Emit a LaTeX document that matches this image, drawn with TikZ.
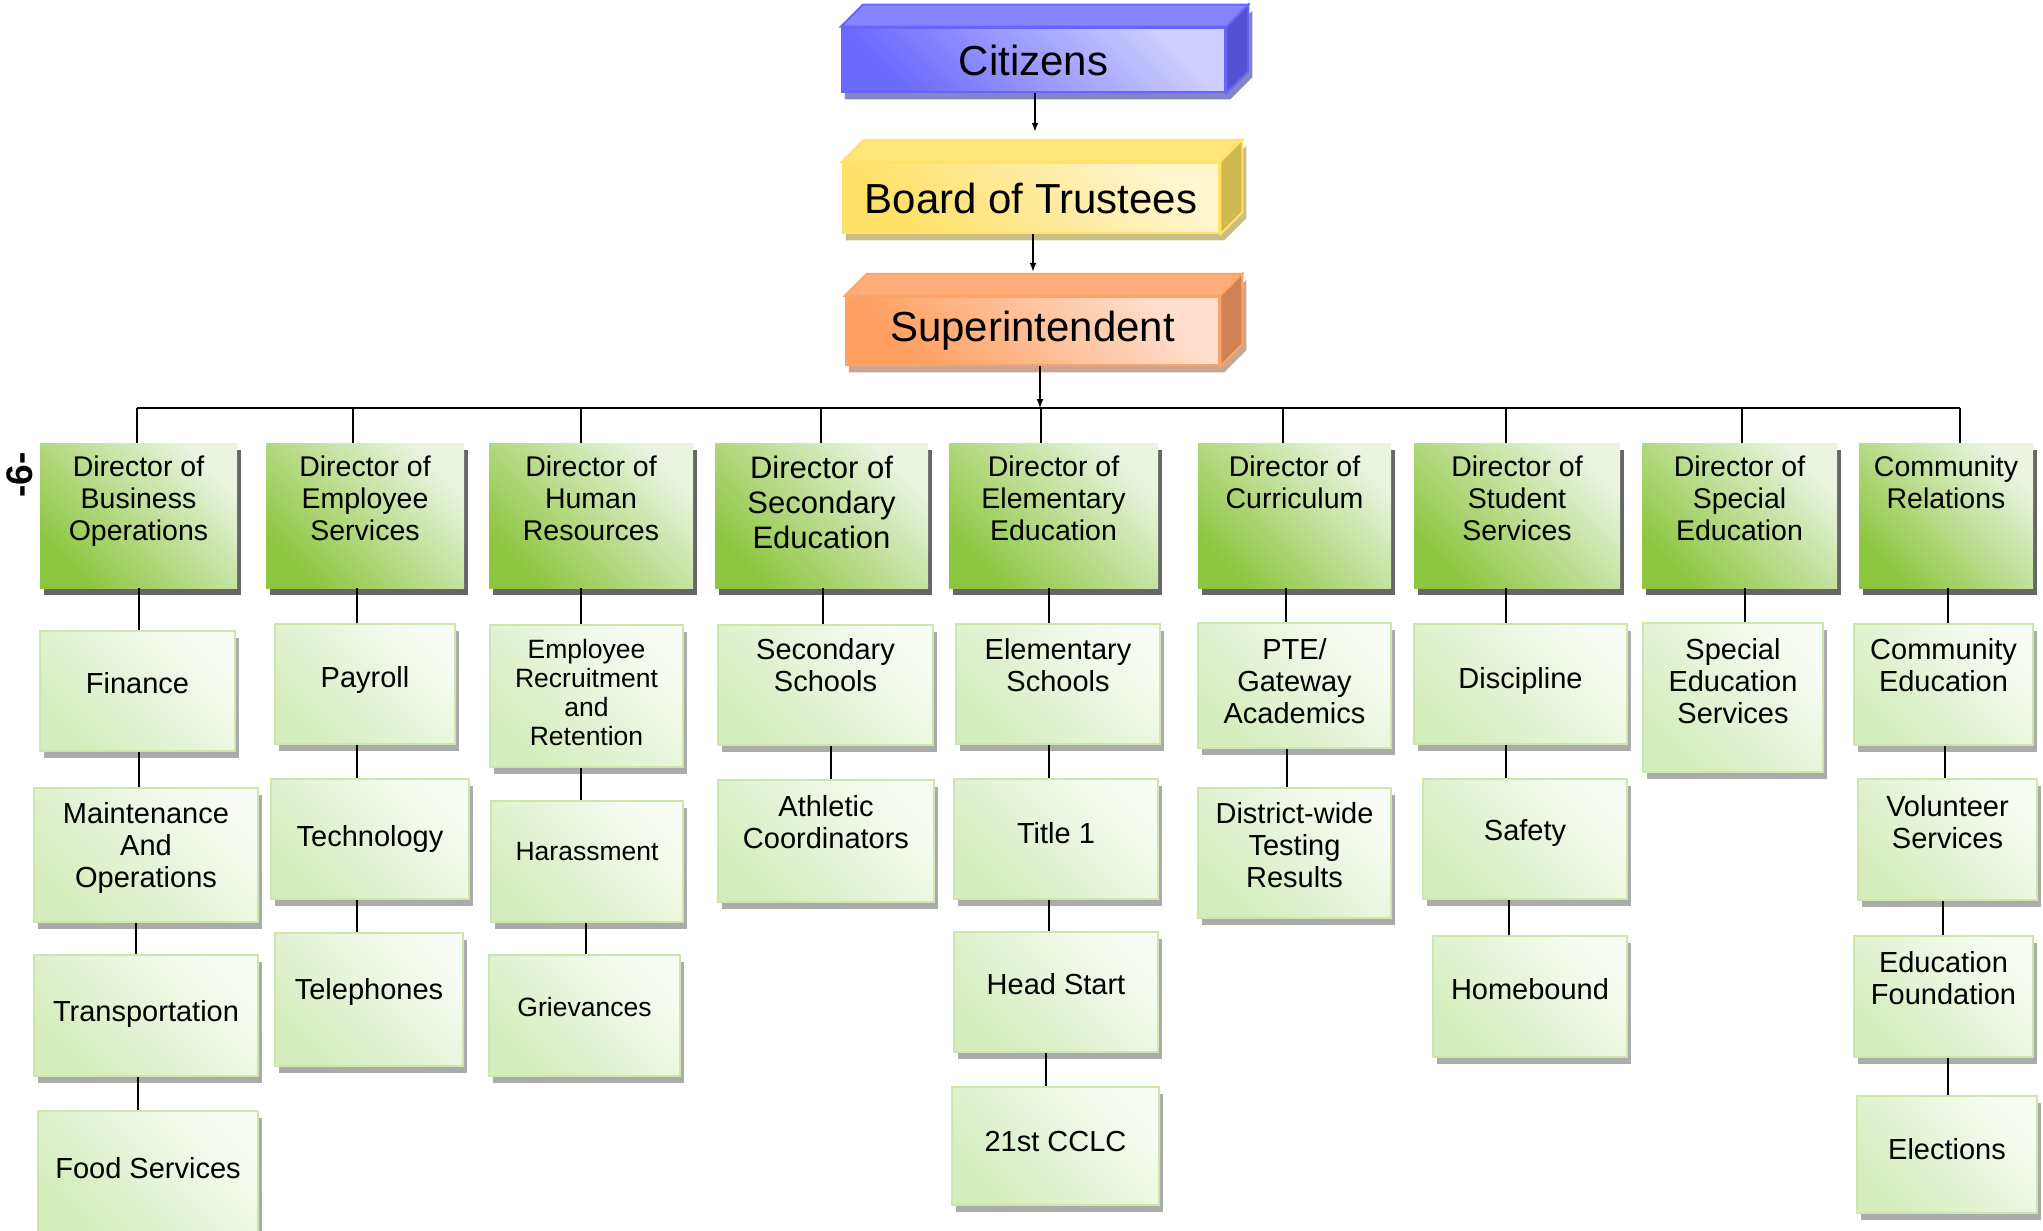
\documentclass[tikz,border=0pt]{standalone}
\usepackage{fontspec}
\setmainfont{Liberation Sans}
\usetikzlibrary{arrows.meta,shadows,backgrounds}

\definecolor{frontcity}{HTML}{6A6AFF}
\definecolor{lightcity}{HTML}{CFCFFF}
\definecolor{topcity}{HTML}{8585FF}
\definecolor{sidecity}{HTML}{5252D2}
\definecolor{linecity}{HTML}{6666FF}
\definecolor{shadowcity}{HTML}{8585C2}
\definecolor{frontboard}{HTML}{FFE066}
\definecolor{lightboard}{HTML}{FFF5CF}
\definecolor{topboard}{HTML}{FFE57A}
\definecolor{sideboard}{HTML}{CFB752}
\definecolor{lineboard}{HTML}{FFE266}
\definecolor{shadowboard}{HTML}{C9BD85}
\definecolor{frontsup}{HTML}{FF9E5E}
\definecolor{lightsup}{HTML}{FFE0CF}
\definecolor{topsup}{HTML}{FFAE7A}
\definecolor{sidesup}{HTML}{CF8254}
\definecolor{linesup}{HTML}{FFA266}
\definecolor{shadowsup}{HTML}{C9A592}
\definecolor{dirdark}{HTML}{8CC63F}
\definecolor{dirlight}{HTML}{EAF4E0}
\definecolor{subdark}{HTML}{D5ECBC}
\definecolor{sublight}{HTML}{F8FCF4}
\definecolor{subline}{HTML}{CCE6AE}
\definecolor{darkshadow}{HTML}{666666}
\definecolor{lightshadow}{HTML}{ABABAB}

\begin{document}
\begin{tikzpicture}[x=1pt,y=-1pt,
  conn/.style={line width=2pt},
  arr/.style={line width=1.6pt,-{Latex[length=9pt,width=7pt]}},
  topbox/.style={rectangle,inner sep=0,line width=2.5pt,font=\fontsize{42}{48}\selectfont},
  dirbox/.style={rectangle,inner sep=0,minimum height=145,
    top color=dirlight,bottom color=dirdark,shading angle=-45,
    drop shadow={shadow xshift=3.5pt,shadow yshift=-6.5pt,fill=darkshadow,opacity=1}},
  dirtext/.style={anchor=north,yshift=-13pt,inner sep=0,align=center,
    font=\fontsize{28.5}{32}\selectfont},
  dirbig/.style={dirtext,font=\fontsize{31}{35}\selectfont},
  subbox/.style={rectangle,inner sep=0,draw=subline,line width=2.5pt,
    top color=sublight,bottom color=subdark,shading angle=-45,
    drop shadow={shadow xshift=3.5pt,shadow yshift=-6.5pt,fill=lightshadow,opacity=1}},
  subtext/.style={inner sep=0,align=center,font=\fontsize{29}{32}\selectfont},
  subsmall/.style={subtext,font=\fontsize{26.5}{29}\selectfont}]
\useasboundingbox (0,0) rectangle (2043,1231);

% the three boxes on top
\foreach \n/\x/\y/\w/\h/\c/\t in {cit/1033.5/60/383/64/city/Citizens,
    brd/1031/198/376/70/board/Board of Trustees,
    sup/1032.5/331/373/68/sup/Superintendent}{
  \node[topbox,draw=line\c,top color=light\c,middle color=light\c,bottom color=front\c,
    shading angle=-45,minimum width=\w,minimum height=\h] (\n) at (\x,\y) {\t};
  \filldraw[fill=top\c,draw=line\c,line width=2pt] (\n.north west) -- ++(22,-22)
    -- ([shift={(22,-22)}]\n.north east) -- (\n.north east) -- cycle;
  \filldraw[fill=side\c,draw=line\c,line width=2pt] (\n.north east) -- ++(22,-22)
    -- ([shift={(22,-22)}]\n.south east) -- (\n.south east) -- cycle;
  \begin{scope}[on background layer]
  \fill[shadow\c,transform canvas={shift={(4,6)}}] (\n.south west) -- (\n.north west)
    -- (\n.north east) -- ++(22,-22) -- ([shift={(22,-22)}]\n.south east)
    -- (\n.south east) -- cycle;
  \end{scope}
}
\draw[arr,shorten >=30pt] ([xshift=1.5pt]cit.south) -- ([xshift=1.5pt]cit.south |- brd.north);
\draw[arr,shorten >=24pt] ([xshift=2pt]brd.south) -- ([xshift=2pt]brd.south |- sup.north);

\node[font=\bfseries\fontsize{37}{40}\selectfont,rotate=90] (pg) at (20,475) {-6-};

% directors
\node[dirbox,minimum width=197,label={[dirtext]north:Director of\\Business\\Operations}] (dbo) at (138.5,515.5) {};
\node[dirbox,minimum width=198,label={[dirtext]north:Director of\\Employee\\Services}] (des) at (365,515.5) {};
\node[dirbox,minimum width=204,label={[dirtext]north:Director of\\Human\\Resources}] (dhr) at (591,515.5) {};
\node[dirbox,minimum width=213,label={[dirbig]north:Director of\\Secondary\\Education}] (dse) at (821.5,515.5) {};
\node[dirbox,minimum width=209,label={[dirtext]north:Director of\\Elementary\\Education}] (del) at (1053.5,515.5) {};
\node[dirbox,minimum width=193,label={[dirtext]north:Director of\\Curriculum}] (dcu) at (1294.5,515.5) {};
\node[dirbox,minimum width=206,label={[dirtext]north:Director of\\Student\\Services}] (dst) at (1517,515.5) {};
\node[dirbox,minimum width=195,label={[dirtext]north:Director of\\Special\\Education}] (dsp) at (1739.5,515.5) {};
\node[dirbox,minimum width=174,label={[dirtext]north:Community\\Relations}] (dcr) at (1946,515.5) {};

\coordinate (bus) at (0,408);
\draw[conn] ([xshift=-1.5pt]dbo.north |- bus) -- ([xshift=14pt]dcr.north |- bus);
\foreach \d/\o in {dbo/-1.5,des/-12,dhr/-10,dse/-0.5,del/-12.5,dcu/-11.5,dst/-11,dsp/2.5,dcr/14}
  \draw[conn] ([xshift=\o pt]\d.north |- bus) -- ([xshift=\o pt]\d.north);
\draw[arr] ([xshift=7.5pt]sup.south) -- ([xshift=7.5pt]sup.south |- bus);

% departments
\foreach \n/\x/\y/\w/\h/\u/\t in {fin/137.5/691/195/120/8/Finance,
    mao/146/855/224/134/7/{Maintenance\\And\\Operations},
    trn/146/1015.5/224/121/2/Transportation,
    fds/148/1172/220/122/4/Food Services,
    pay/365/684/180/120/4/Payroll, tec/370/839/198/120/0/Technology,
    tel/369/999.5/188/133/8/Telephones,
    sch/825.5/685/215/120/20/{Secondary\\Schools},
    ath/826/841/216/122/19/{Athletic\\Coordinators},
    els/1058/684/204/120/19/{Elementary\\Schools}, tt1/1056/839/204/120/6/Title 1,
    hds/1056/992/204/120/8/Head Start, ccl/1055.5/1146/207/118/4/21st CCLC,
    pte/1294.5/685.5/193/125/4/{PTE/\\Gateway\\Academics},
    dwt/1294.5/853/193/130/8/{District-wide\\Testing\\Results},
    dsc/1520.5/684/213/120/3/Discipline, sft/1525/839/204/120/6/Safety,
    hmb/1530/996.5/194/121/7/Homebound,
    ses/1733/697.5/180/149/16/{Special\\Education\\Services},
    ced/1943.5/684.5/179/121/19/{Community\\Education},
    vol/1947.5/839.5/179/121/17/{Volunteer\\Services},
    edf/1943.5/996.5/179/121/18/{Education\\Foundation},
    elc/1947/1154.5/180/117/5/Elections}{
  \node[subbox,minimum width=\w,minimum height=\h] (\n) at (\x,\y) {};
  \node[subtext] (t\n) at ([yshift=\u pt]\n.center) {\t};
}
\foreach \n/\x/\y/\w/\h/\u/\t in {rec/586.5/696/193/142/3/{Employee\\Recruitment\\and\\Retention},
    har/587/861.5/192/121/10/Harassment, grv/584.5/1015.5/191/121/8/Grievances}{
  \node[subbox,minimum width=\w,minimum height=\h] (\n) at (\x,\y) {};
  \node[subsmall] (t\n) at ([yshift=\u pt]\n.center) {\t};
}

%\foreach \a/\b in {dbo/fin,fin/mao} \draw[conn] (\a.south) -- (\a.south |- \b.north);
\foreach \a/\b/\o in {dbo/fin/0,fin/mao/1.5,mao/trn/-10.5,trn/fds/-8,
    des/pay/-8,pay/tec/-8,tec/tel/-13,dhr/rec/-10,rec/har/-5.5,har/grv/-1,
    dse/sch/1.5,sch/ath/5.5,del/els/-4.5,els/tt1/-9,tt1/hds/-7,hds/ccl/-10,
    dcu/pte/-8.5,pte/dwt/-7.5,dst/dsc/-11,dsc/sft/-14.5,sft/hmb/-16,dsp/ses/5.5,
    dcr/ced/2,ced/vol/1.5,vol/edf/-4.5,edf/elc/4.5}
  \draw[conn] ([xshift=\o pt]\a.south) -- ([xshift=\o pt]\a.south |- \b.north);
\end{tikzpicture}
\end{document}
